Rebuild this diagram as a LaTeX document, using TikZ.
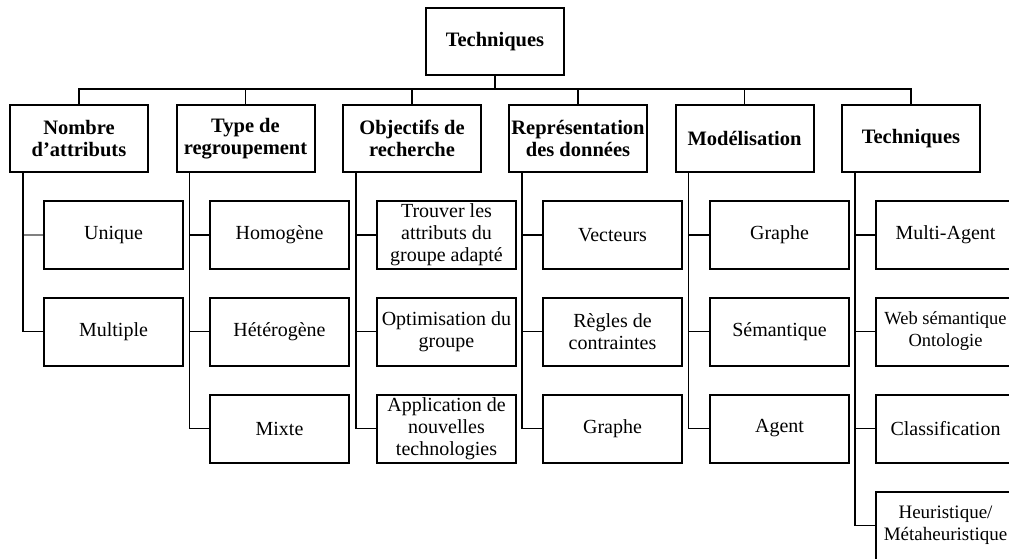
\documentclass[tikz,border=0pt]{standalone}
\usepackage{fontspec}
\setmainfont{Liberation Serif}
\begin{document}
\begin{tikzpicture}[x=1pt,y=-1pt,
  box/.style={draw=black,line width=2pt,fill=white,minimum width=138pt,minimum height=67pt,inner sep=0pt,align=center,font=\fontsize{20.5}{21.5}\selectfont\bfseries},
  leaf/.style={draw=black,line width=2pt,fill=white,minimum width=139pt,minimum height=68pt,inner sep=0pt,align=center,font=\fontsize{20}{22}\selectfont},
  link/.style={draw=black,line width=1.8pt},
  glink/.style={draw=gray,line width=1.8pt}]
\clip (0,0) rectangle (1009,559);
\fill[white] (0,0) rectangle (1009,559);
% root
\node[box] (top) at (495,41.5) {Techniques};
\coordinate (bus) at (495,89);
% headers
\node[box] (h1) at (79,138.5) {Nombre\\d’attributs};
\node[box] (h2) at (245.5,138.5) {Type de\\regroupement};
\node[box] (h3) at (412,138.5) {Objectifs de\\recherche};
\node[box] (h4) at (578,138.5) {Représentation\\des données};
\node[box] (h5) at (744.5,138.5) {Modélisation};
\node[box] (h6) at (911,138.5) {Techniques};
\foreach \h in {h1,h2,h3,h4,h5,h6}{
  \draw[link] (top.south) -- (bus) -| (\h.north);
}
% children
\node[leaf] (c11) at (113.5,235) {Unique};
\node[leaf] (c12) at (113.5,331.5) {Multiple};
\node[leaf] (c21) at (279.5,235) {Homogène};
\node[leaf] (c22) at (279.5,331.5) {Hétérogène};
\node[leaf] (c23) at (279.5,428.5) {Mixte};
\node[leaf] (c31) at (446.5,235) {Trouver les\\attributs du\\groupe adapté};
\node[leaf] (c32) at (446.5,331.5) {Optimisation du\\groupe};
\node[leaf] (c33) at (446.5,428.5) {Application de\\nouvelles\\technologies};
\node[leaf] (c41) at (612.5,235) {Vecteurs};
\node[leaf] (c42) at (612.5,331.5) {Règles de\\contraintes};
\node[leaf] (c43) at (612.5,428.5) {Graphe};
\node[leaf] (c51) at (779.5,235) {Graphe};
\node[leaf] (c52) at (779.5,331.5) {Sémantique};
\node[leaf] (c53) at (779.5,428.5) {Agent};
\node[leaf] (c61) at (945.5,235) {Multi-Agent};
\node[leaf,font=\fontsize{18.5}{22}\selectfont] (c62) at (945.5,331.5) {Web sémantique\\Ontologie};
\node[leaf] (c63) at (945.5,428.5) {Classification};
\node[leaf,font=\fontsize{19}{22}\selectfont] (c64) at (945.5,525.5) {Heuristique/\\Métaheuristique};
% spines
\draw[glink] ([xshift=14pt]h1.south west) |- (c11.west);
\draw[link] ([xshift=14pt]h1.south west) |- (c12.west);
\foreach \c in {c21,c22,c23}{\draw[link] ([xshift=14pt]h2.south west) |- (\c.west);}
\foreach \c in {c31,c32,c33}{\draw[link] ([xshift=14pt]h3.south west) |- (\c.west);}
\foreach \c in {c41,c42,c43}{\draw[link] ([xshift=14pt]h4.south west) |- (\c.west);}
\foreach \c in {c51,c52,c53}{\draw[link] ([xshift=14pt]h5.south west) |- (\c.west);}
\foreach \c in {c61,c62,c63,c64}{\draw[link] ([xshift=14pt]h6.south west) |- (\c.west);}
\end{tikzpicture}
\end{document}
